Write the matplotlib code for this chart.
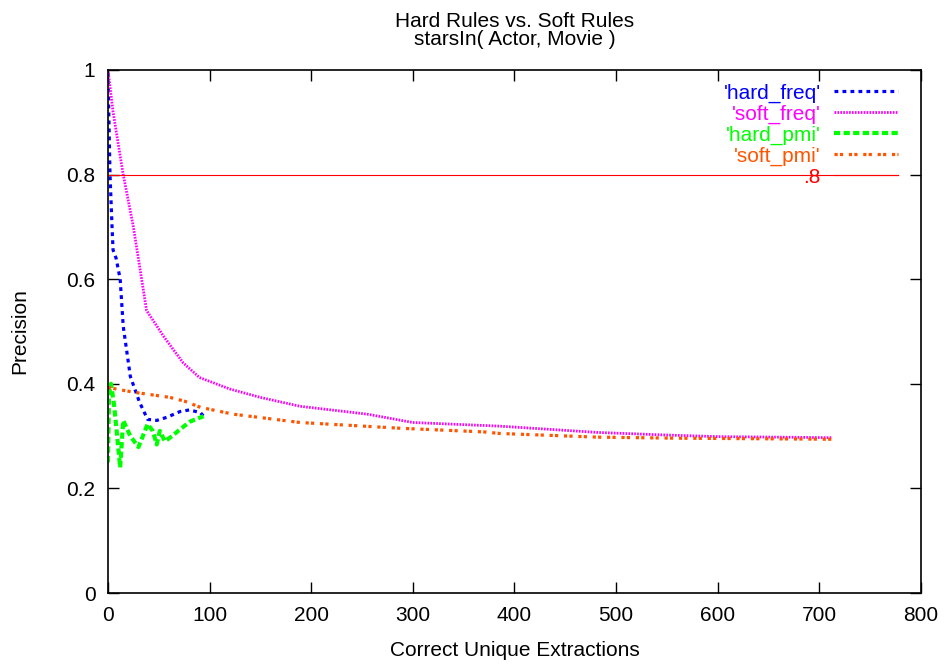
import matplotlib
matplotlib.use("Agg")
import matplotlib.pyplot as plt

plt.rcParams["font.family"] = ["Liberation Sans", "DejaVu Sans"]

# precision vs. number of correct unique extractions
hard_freq_x = [0, 2, 4, 5, 8, 12, 15, 22, 31, 39, 48, 58, 71, 80, 91, 94]
hard_freq_y = [0.995, 0.80, 0.70, 0.656, 0.64, 0.60, 0.51, 0.414, 0.365, 0.332,
               0.330, 0.336, 0.347, 0.350, 0.345, 0.338]

soft_freq_x = [0, 5, 15, 25, 38, 55, 74, 90, 120, 150, 189, 255, 300, 386, 482,
               550, 600, 660, 712]
soft_freq_y = [1.0, 0.92, 0.80, 0.70, 0.54, 0.49, 0.44, 0.412, 0.39, 0.374, 0.357,
               0.342, 0.326, 0.319, 0.307, 0.302, 0.299, 0.298, 0.297]

hard_pmi_x = [0, 1, 3, 6, 9, 12, 15, 22, 30, 39, 44, 48, 51, 56, 63, 71, 81, 94]
hard_pmi_y = [0.25, 0.38, 0.40, 0.36, 0.30, 0.24, 0.33, 0.30, 0.279, 0.323, 0.31,
              0.284, 0.31, 0.29, 0.30, 0.313, 0.328, 0.338]

soft_pmi_x = [0, 25, 61, 75, 91, 123, 189, 288, 370, 386, 482, 560, 640, 712]
soft_pmi_y = [0.393, 0.384, 0.374, 0.367, 0.355, 0.342, 0.326, 0.315, 0.308,
              0.305, 0.298, 0.296, 0.295, 0.294]

threshold = 0.8
threshold_x = [0, 777]

FS = 15

fig = plt.figure(figsize=(9.48, 6.64), dpi=100)
ax = fig.add_axes([0.1139, 0.1069, 0.8576, 0.7877])

ax.plot(hard_freq_x, hard_freq_y, color="#0000ff", lw=2.3,
        linestyle=(0, (1.2, 1.3)), dash_capstyle="butt", label="'hard_freq'")
ax.plot(soft_freq_x, soft_freq_y, color="#ff00ff", lw=2.0,
        linestyle=(0, (0.6, 0.45)), dash_capstyle="butt", label="'soft_freq'")
ax.plot(hard_pmi_x, hard_pmi_y, color="#00ff00", lw=3.0,
        linestyle=(0, (1.5, 0.8)), dash_capstyle="butt", label="'hard_pmi'")
ax.plot(soft_pmi_x, soft_pmi_y, color="#ff5500", lw=2.3,
        linestyle=(0, (1.0, 0.7, 1.0, 1.8)), dash_capstyle="butt",
        label="'soft_pmi'")
ax.plot(threshold_x, [threshold, threshold], color="#ff0000", lw=0.8, label=".8")

ax.set_xlim(0, 800)
ax.set_ylim(0, 1)
ax.set_xticks(range(0, 801, 100))
ax.set_yticks([0, 0.2, 0.4, 0.6, 0.8, 1.0])
ax.set_yticklabels(["0", "0.2", "0.4", "0.6", "0.8", "1"])
ax.tick_params(direction="in", length=8, width=1, top=True, right=True,
               labelsize=FS, pad=9)
for sp in ax.spines.values():
    sp.set_linewidth(1.2)

ax.set_xlabel("Correct Unique Extractions", fontsize=FS, labelpad=12)
ax.set_ylabel("Precision", fontsize=FS, labelpad=27)
ax.set_title("Hard Rules vs. Soft Rules\nstarsIn( Actor, Movie )",
             fontsize=FS, linespacing=0.95, pad=18)

leg = ax.legend(loc="upper right", bbox_to_anchor=(0.9885, 1.0), frameon=False,
                markerfirst=False, labelcolor="linecolor", fontsize=FS,
                handlelength=3.1, handletextpad=0.62, labelspacing=0.085,
                borderaxespad=0.25)

fig.savefig("out.png", dpi=100)
